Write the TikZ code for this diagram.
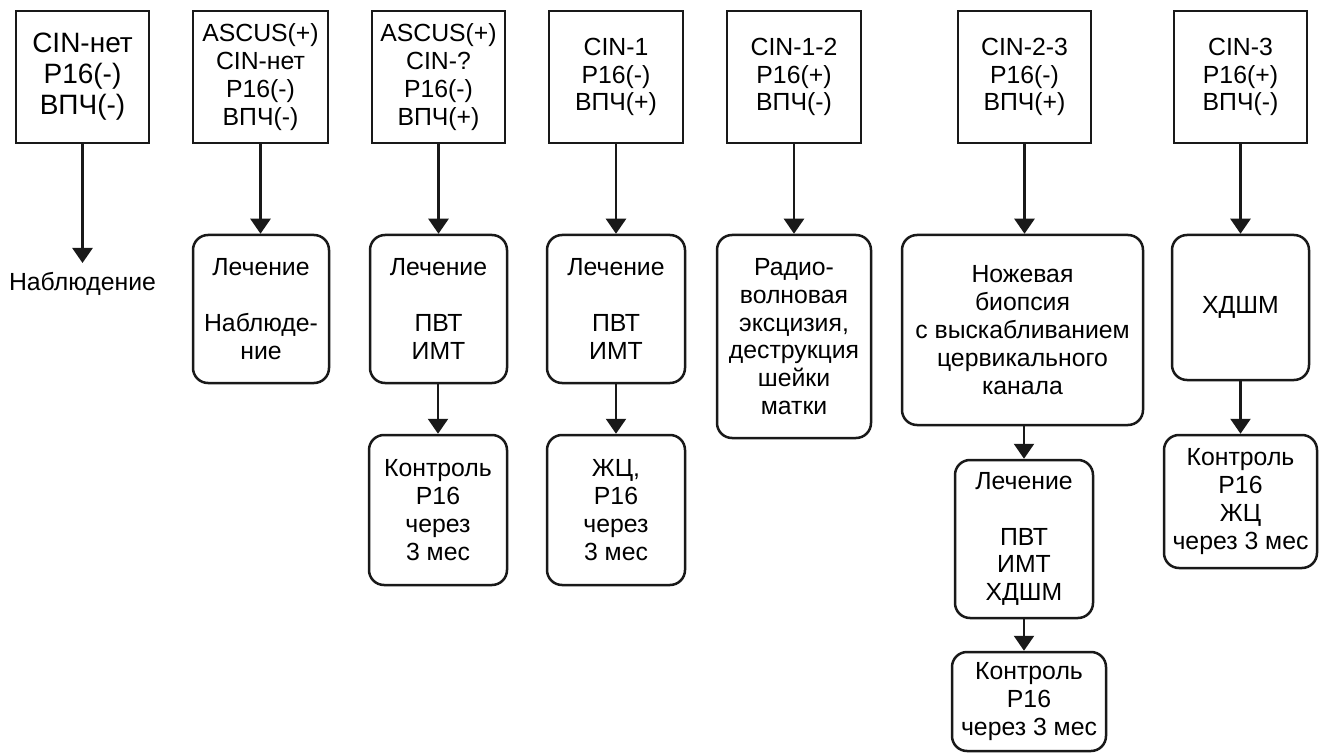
\documentclass[tikz,border=0pt]{standalone}
\usepackage{fontspec}
\setmainfont{Liberation Sans}
\usetikzlibrary{arrows.meta}
\begin{document}
\begin{tikzpicture}[x=1pt,y=-1pt,
  sq/.style={draw=black!90, line width=2.5pt, inner sep=0pt, align=center,
    font=\fontsize{24.8pt}{27.8pt}\selectfont},
  rb/.style={sq, rounded corners=15pt},
  arr/.style={line width=2.5pt, draw=black!90, -{Triangle[width=20pt,length=15pt]}}]
\useasboundingbox[fill=white] (0,0) rectangle (1320,754);
% top row
\node[sq, minimum width=133pt, minimum height=132pt, font=\fontsize{28pt}{31pt}\selectfont] (t1) at (82.5,77) {CIN-нет\\P16(-)\\ВПЧ(-)};
\node[sq, minimum width=135pt, minimum height=132pt] (t2) at (260.5,77) {ASCUS(+)\\CIN-нет\\P16(-)\\ВПЧ(-)};
\node[sq, minimum width=133pt, minimum height=132pt] (t3) at (438.5,77) {ASCUS(+)\\CIN-?\\P16(-)\\ВПЧ(+)};
\node[sq, minimum width=134pt, minimum height=132pt] (t4) at (616,77) {CIN-1\\P16(-)\\ВПЧ(+)};
\node[sq, minimum width=134pt, minimum height=132pt] (t5) at (794,77) {CIN-1-2\\P16(+)\\ВПЧ(-)};
\node[sq, minimum width=133pt, minimum height=132pt] (t6) at (1024.5,77) {CIN-2-3\\P16(-)\\ВПЧ(+)};
\node[sq, minimum width=133pt, minimum height=132pt] (t7) at (1240.5,77) {CIN-3\\P16(+)\\ВПЧ(-)};
% column 1
\node[font=\fontsize{24.8pt}{27.8pt}\selectfont, inner sep=0pt] (n1) at (82.5,284) {Наблюдение};
\coordinate (n1top) at (82.5,263);
% second row
\node[rb, minimum width=136pt, minimum height=148pt] (b2) at (261,309) {Лечение\\[27.8pt]Наблюде-\\ние};
\node[rb, minimum width=137pt, minimum height=148pt] (b3) at (438.5,309) {Лечение\\[27.8pt]ПВТ\\ИМТ};
\node[rb, minimum width=138pt, minimum height=148pt] (b4) at (616,309) {Лечение\\[27.8pt]ПВТ\\ИМТ};
\node[rb, minimum width=154pt, minimum height=203pt] (b5) at (794,336.5) {Радио-\\волновая\\эксцизия,\\деструкция\\шейки\\матки};
\node[rb, minimum width=241pt, minimum height=190pt] (b6) at (1022.5,330) {Ножевая\\биопсия\\с выскабливанием\\цервикального\\канала};
\node[rb, minimum width=137pt, minimum height=145pt] (b7) at (1240.5,307.5) {ХДШМ};
% third row
\node[rb, minimum width=138pt, minimum height=150pt] (c3) at (438,510) {Контроль\\P16\\через\\3 мес};
\node[rb, minimum width=138pt, minimum height=150pt] (c4) at (616,510) {ЖЦ,\\P16\\через\\3 мес};
\node[rb, minimum width=138pt, minimum height=158pt] (d6) at (1024,539) {Лечение\\[27.8pt]ПВТ\\ИМТ\\ХДШМ};
\node[rb, minimum width=153pt, minimum height=133pt] (c7) at (1240.5,501.5) {Контроль\\P16\\ЖЦ\\через 3 мес};
\node[rb, minimum width=154pt, minimum height=99pt] (e6) at (1029,701.5) {Контроль\\P16\\через 3 мес};
% arrows
\draw[arr] (t1.south) -- (n1top);
\draw[arr] (t2.south) -- (b2.north -| t2.south);
\draw[arr] (t3.south) -- (b3.north -| t3.south);
\draw[arr] (t4.south) -- (b4.north -| t4.south);
\draw[arr] (t5.south) -- (b5.north -| t5.south);
\draw[arr] (t6.south) -- (b6.north -| t6.south);
\draw[arr] (t7.south) -- (b7.north -| t7.south);
\draw[arr] (b3.south -| c3.north) -- (c3.north);
\draw[arr] (b4.south) -- (c4.north -| b4.south);
\draw[arr] (b6.south -| d6.north) -- (d6.north);
\draw[arr] (d6.south) -- (e6.north -| d6.south);
\draw[arr] (b7.south) -- (c7.north -| b7.south);
\end{tikzpicture}
\end{document}
